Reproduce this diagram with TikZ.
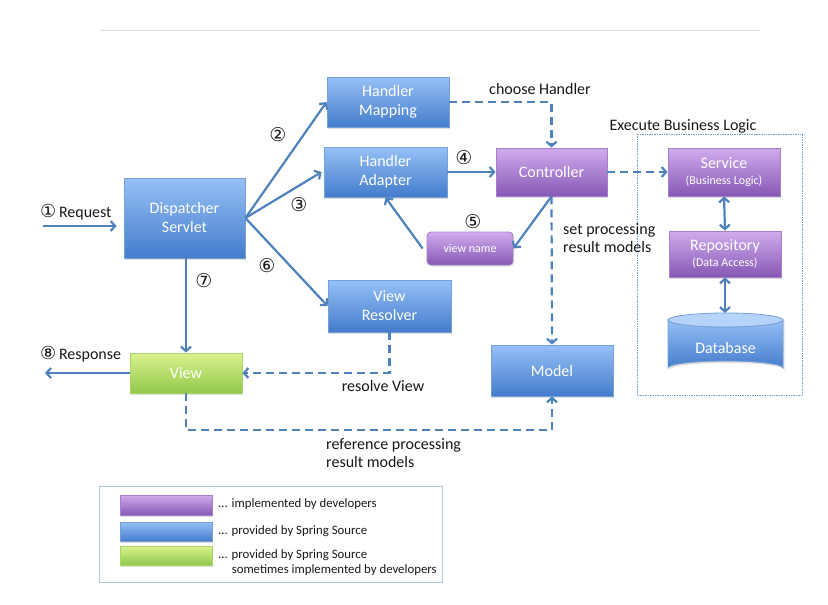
\documentclass[tikz,border=0pt]{standalone}
\usepackage{fontspec}
\setmainfont{Carlito}
\newfontfamily\numf{DejaVu Sans}
\usetikzlibrary{arrows.meta,shadows,calc}
\definecolor{lineblue}{RGB}{79,129,189}
\definecolor{bluetop}{RGB}{150,192,246}
\definecolor{bluebot}{RGB}{68,124,204}
\definecolor{blueedge}{RGB}{118,160,216}
\definecolor{purtop}{RGB}{208,172,238}
\definecolor{purbot}{RGB}{134,88,180}
\definecolor{puredge}{RGB}{165,128,202}
\definecolor{grntop}{RGB}{218,242,142}
\definecolor{grnbot}{RGB}{146,200,74}
\definecolor{grnedge}{RGB}{172,212,110}
\definecolor{txt}{RGB}{25,25,25}
\definecolor{legedge}{RGB}{180,198,222}
\tikzset{
  box/.style={rectangle, text=white, align=center, inner sep=0pt, line width=0.8pt,
    font=\fontsize{16}{19}\selectfont,
    drop shadow={opacity=0.25,shadow xshift=1pt,shadow yshift=-1.5pt}},
  bluebox/.style={box, top color=bluetop, bottom color=bluebot, draw=blueedge},
  purbox/.style={box, top color=purtop, bottom color=purbot, draw=puredge},
  grnbox/.style={box, top color=grntop, bottom color=grnbot, draw=grnedge},
  conn/.style={draw=lineblue, line width=2.2pt, -{Straight Barb[length=4.5pt,width=10pt]}},
  biconn/.style={draw=lineblue, line width=2.2pt, {Straight Barb[length=4.5pt,width=10pt]}-{Straight Barb[length=4.5pt,width=10pt]}},
  dconn/.style={conn, dash pattern=on 8pt off 5pt},
  lbl/.style={text=txt, inner sep=0pt, font=\fontsize{16}{18.5}\selectfont},
  num/.style={text=txt, inner sep=0pt, font=\numf\fontsize{19}{19}\selectfont},
  legtxt/.style={text=txt, inner sep=0pt, align=left, anchor=west, font=\fontsize{12.8}{15}\selectfont}
}
\begin{document}
\begin{tikzpicture}[x=1pt,y=-1pt]
\fill[white] (0,0) rectangle (828,605);
\useasboundingbox (0,0) rectangle (828,605);
\draw[black!15, line width=0.8pt] (100,30) -- (760,30);

% business logic frame
\draw[lineblue!80, line width=0.7pt, densely dotted] (637,134) rectangle (802,395);
\node[lbl] (ebl) at (683,126) {Execute Business Logic};

% main nodes
\node[bluebox, minimum width=121pt, minimum height=80pt] (ds) at (184.5,218) {Dispatcher\\Servlet};
\node[bluebox, minimum width=122pt, minimum height=50pt] (hm) at (388,102) {Handler\\Mapping};
\node[bluebox, minimum width=123pt, minimum height=50pt] (ha) at (385.5,172) {Handler\\Adapter};
\node[purbox, minimum width=111pt, minimum height=48pt] (ctl) at (551.5,172) {Controller};
\node[purbox, rounded corners=4pt, minimum width=86pt, minimum height=33pt, font=\fontsize{12}{14}\selectfont] (vn) at (470,248.5) {view name};
\node[bluebox, minimum width=123pt, minimum height=52pt] (vr) at (389.5,306) {View\\Resolver};
\node[grnbox, minimum width=112pt, minimum height=40pt] (view) at (186,373) {View};
\node[bluebox, minimum width=122pt, minimum height=51pt] (model) at (552,370.5) {Model};
\node[purbox, minimum width=112pt, minimum height=48pt] (svc) at (724,172) {Service\\[-3pt]{\fontsize{12}{14}\selectfont (Business Logic)}};
\node[purbox, minimum width=112pt, minimum height=46pt] (repo) at (725,254) {Repository\\[-3pt]{\fontsize{12}{14}\selectfont (Data Access)}};

% database cylinder
\begin{scope}
\fill[black!25, opacity=0.5] (669.5,321) -- (669.5,370) arc[start angle=180,end angle=360,x radius=57.5pt,y radius=-7pt] -- (784.5,321) -- cycle;
\shade[top color=bluetop, bottom color=bluebot, draw=blueedge, line width=0.8pt]
  (668,320) -- (668,368) arc[start angle=180,end angle=360,x radius=57.5pt,y radius=-7pt] -- (783,320)
  arc[start angle=0,end angle=180,x radius=57.5pt,y radius=-7pt] -- cycle;
\fill[bluetop!70!white, draw=blueedge, line width=0.8pt] (725.5,320) ellipse[x radius=57.5pt,y radius=7pt];
\end{scope}
\node[text=white, font=\fontsize{16}{19}\selectfont, inner sep=0pt] (db) at (725.5,348) {Database};
\coordinate (dbtop) at (725,313);

% connectors
\coordinate (reqs) at (43,226);
\draw[conn, shorten >=7pt] (reqs) -- (ds.west |- reqs);
\coordinate (resp) at (45,373);
\draw[conn] (view.west) -- (resp);
\draw[conn] (ds.east) -- (hm.west);
\draw[conn] (ds.east) -- ([xshift=-2pt]ha.west);
\draw[conn] (ds.east) -- (vr.west);
\draw[conn] (view.north |- ds.south) -- (view.north);
\draw[conn] (ha.east) -- (ctl.west);
\draw[conn] (ctl.south) -- (vn.east);
\draw[conn] ([xshift=-4pt]vn.west) -- (ha.south);
\draw[dconn] (hm.east) -| (ctl.north);
\draw[dconn] (ctl.south) -- (model.north);
\draw[dconn] (ctl.east) -- (svc.west);
\draw[biconn] (svc.south) -- (repo.north);
\draw[biconn] (repo.south) -- (dbtop);
\draw[dconn] (vr.south) |- (view.east);
\coordinate (refy) at (0,430);
\draw[dconn] (view.south) -- (view.south |- refy) -| (model.south);

% labels
\node[lbl, anchor=west] (reql) at (40,212) {{\numf\fontsize{18}{18}\selectfont ①}\,Request};
\node[lbl, anchor=west] (respl) at (40,354) {{\numf\fontsize{18}{18}\selectfont ⑧}\,Response};
\node[num] (n2) at (278,135) {②};
\node[num] (n3) at (299,205) {③};
\node[num] (n6) at (267,266) {⑥};
\node[num] (n7) at (204,281) {⑦};
\node[num] (n4) at (464,158) {④};
\node[num] (n5) at (473,222) {⑤};
\node[lbl] (ch) at (540,89) {choose Handler};
\node[lbl, anchor=west, align=left] (spr) at (563,238) {set processing\\result models};
\node[lbl] (rv) at (383,386) {resolve View};
\node[lbl, anchor=west, align=left] (rpr) at (326,453) {reference processing\\result models};

% legend
\draw[legedge, line width=0.8pt] (99,486) rectangle (442,582);
\node[purbox, minimum width=92pt, minimum height=20pt] (lp) at (166,505) {};
\node[bluebox, minimum width=92pt, minimum height=19pt] (lb) at (166,531.5) {};
\node[grnbox, minimum width=92pt, minimum height=19pt] (lg) at (166,555.5) {};
\node[legtxt] (lpt) at (218,504) {... implemented by developers};
\node[legtxt] (lbt) at (218,531) {... provided by Spring Source};
\node[legtxt] (lgt) at (218,563) {... provided by Spring Source\\\phantom{... }sometimes implemented by developers};
\end{tikzpicture}
\end{document}
